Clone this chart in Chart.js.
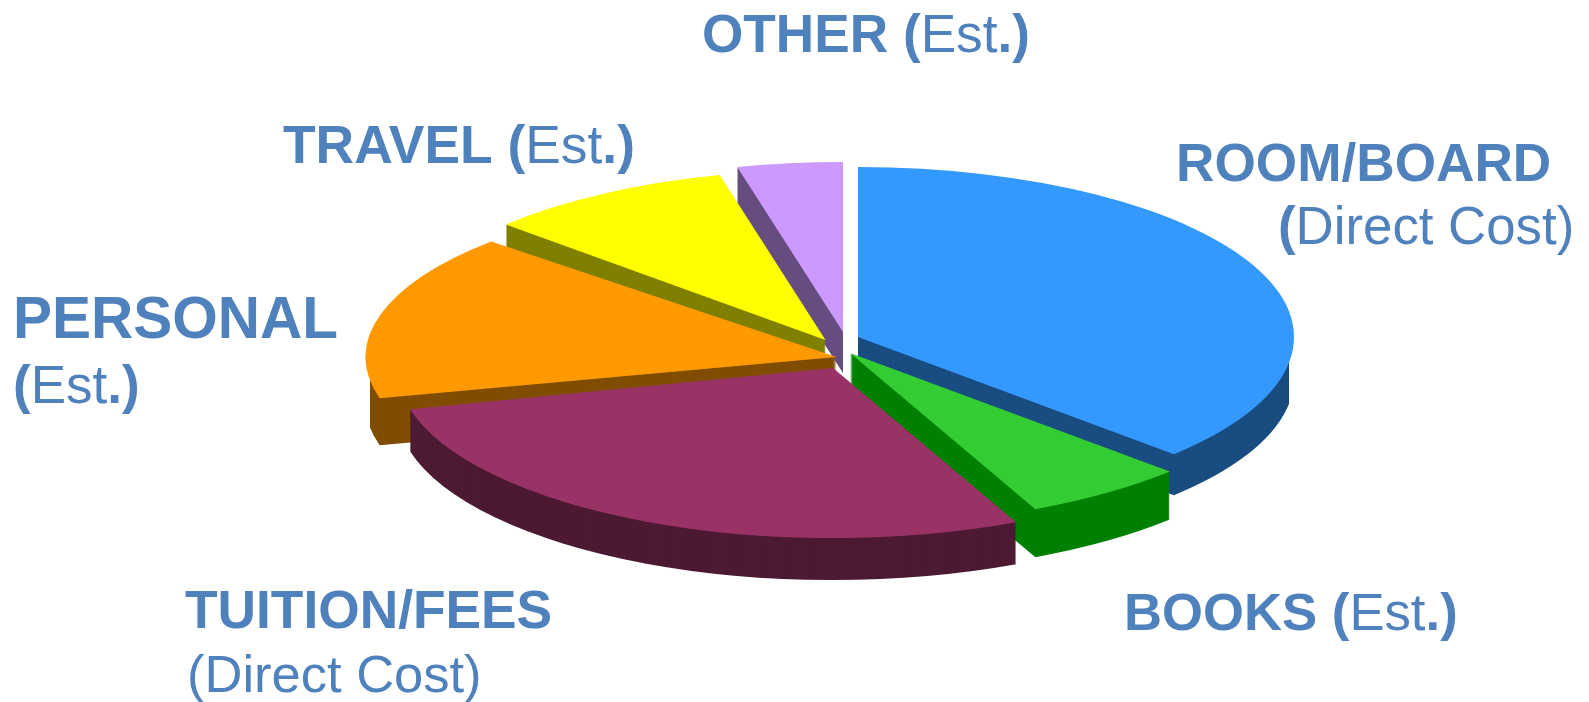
<!DOCTYPE html>
<html>
<head>
<meta charset="utf-8">
<title>Costs</title>
<script src="https://cdn.jsdelivr.net/npm/chart.js@4"></script>
<style>
    html, body { margin: 0; padding: 0; background: #fff; overflow: hidden; }
    #pie { display: block; }
</style>
</head>
<body>
<canvas id="pie" width="1589" height="702"></canvas>
<script>
// Datos (porcentaje aproximado de cada porcion)
const categories = ['ROOM/BOARD', 'BOOKS', 'TUITION/FEES', 'PERSONAL', 'TRAVEL', 'OTHER'];
const shares = [37.1, 6.0, 28.0, 15.8, 9.2, 3.9];

const topColors = ['#3399ff', '#33cc33', '#993366', '#ff9900', '#ffff00', '#cc99ff'];
const sideColors = ['#1a4d80', '#008000', '#4d1a33', '#804d00', '#808000', '#664d80'];

// Vertice de cada porcion en pantalla (pie separado), grosor y escala
const apexX = [858, 850, 833, 836.5, 825.5, 843];
const apexY = [337, 353, 368, 357, 340, 332];
const depths = [41, 48, 42, 47, 41, 41];
const scaleX = [1, 1.012, 1, 1.08, 1, 1];
const scaleY = [1, 1.012, 1, 1, 1, 1];
const sideMinX = [0, 0, 0, 370, 0, 0];
const sideMaxX = [1289, 1589, 1589, 1589, 1589, 1589];
const drawOrder = [5, 4, 3, 0, 1, 2]; // de atras hacia adelante

const PIE_RADIUS = 436;
const TILT = 0.39;

const LABEL_COLOR = '#4f81bd';

// Etiquetas: x, linea base y tramos [texto, negrita]
const labels = [
    { x: 702, y: 52, size: 53.2, runs: [['OTHER (', 1], ['Est', 0], ['.)', 1]] },
    { x: 283, y: 163, size: 53.4, runs: [['TRAVEL (', 1], ['Est', 0], ['.)', 1]] },
    { x: 1176, y: 181, size: 53.2, runs: [['ROOM/BOARD', 1]] },
    { x: 1278, y: 244, size: 52.8, runs: [['(', 1], ['Direct Cost)', 0]] },
    { x: 13, y: 338, size: 58.5, runs: [['PERSONAL', 1]] },
    { x: 13, y: 403, size: 53, runs: [['(', 1], ['Est', 0], ['.)', 1]] },
    { x: 185, y: 628, size: 53.3, runs: [['TUITION/FEES', 1]] },
    { x: 187, y: 692, size: 52.5, runs: [['(Direct Cost)', 0]] },
    { x: 1124, y: 630, size: 52.7, runs: [['BOOKS (', 1], ['Est', 0], ['.)', 1]] }
];

const pie3d = {
    id: 'pie3d',
    beforeDatasetsDraw(chart) {
        const ctx = chart.ctx;
        const arcs = chart.getDatasetMeta(0).data;

        const place = (arc, i, drop) => {
            ctx.save();
            ctx.translate(apexX[i], apexY[i] + drop);
            ctx.scale(scaleX[i], scaleY[i] * TILT);
            ctx.translate(-arc.x, -arc.y);
            arc.draw(ctx);
            ctx.restore();
        };

        drawOrder.forEach(i => {
            const arc = arcs[i];
            const base = arc.options;
            // costado: la misma porcion repetida hacia abajo
            arc.options = { ...base, backgroundColor: sideColors[i], borderColor: sideColors[i] };
            ctx.save();
            ctx.beginPath();
            ctx.rect(sideMinX[i], 0, sideMaxX[i] - sideMinX[i], chart.height);
            ctx.clip();
            for (let d = depths[i]; d >= 1; d--) place(arc, i, d);
            ctx.restore();
            arc.options = base;
            place(arc, i, 0);
        });
        return false;
    },
    afterDraw(chart) {
        const ctx = chart.ctx;
        ctx.save();
        ctx.fillStyle = LABEL_COLOR;
        ctx.textBaseline = 'alphabetic';
        labels.forEach(l => {
            let x = l.x;
            l.runs.forEach(([txt, bold]) => {
                ctx.font = (bold ? 'bold ' : '') + l.size + 'px "Liberation Sans"';
                ctx.fillText(txt, x, l.y);
                x += ctx.measureText(txt).width;
            });
        });
        ctx.restore();
    }
};

new Chart(document.getElementById('pie'), {
    type: 'pie',
    data: {
        labels: categories,
        datasets: [{
            data: shares,
            backgroundColor: topColors,
            borderWidth: 0,
            clip: false
        }]
    },
    options: {
        responsive: false,
        animation: false,
        radius: PIE_RADIUS,
        rotation: 0,
        plugins: { legend: { display: false }, tooltip: { enabled: false } }
    },
    plugins: [pie3d]
});
</script>
</body>
</html>
